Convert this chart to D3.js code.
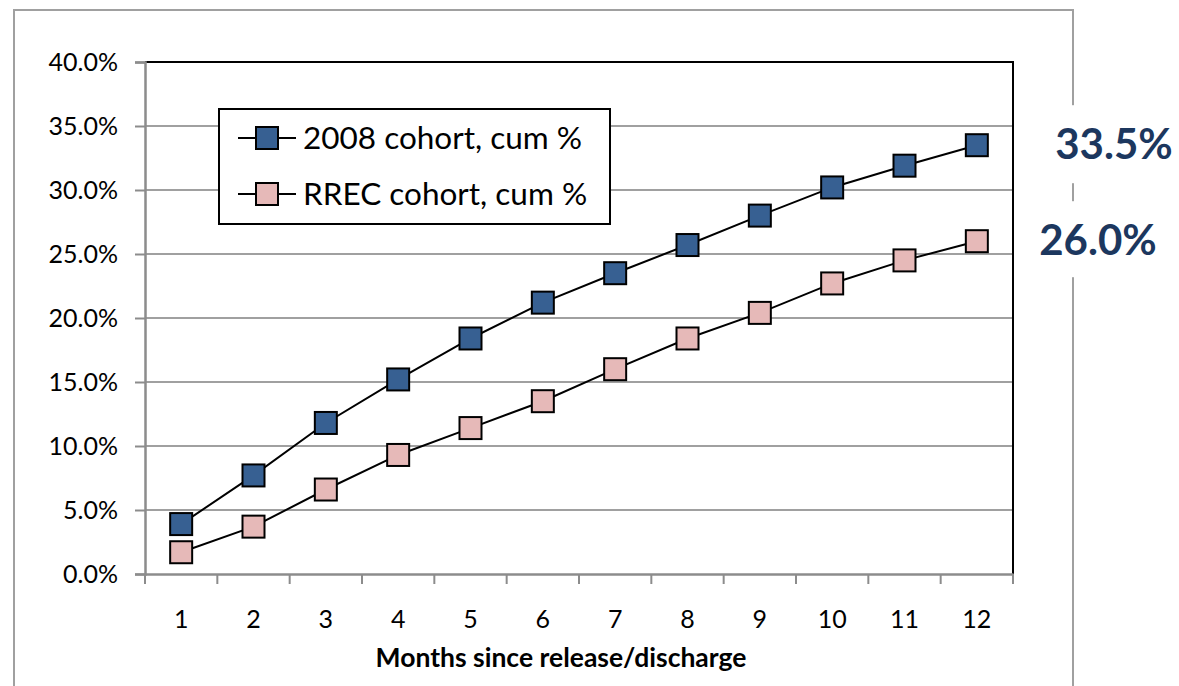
<!DOCTYPE html>
<html><head><meta charset="utf-8">
<script src="https://cdn.jsdelivr.net/npm/d3@7"></script>
<style>body{margin:0;background:#fff}svg{display:block}text{font-family:Lato,"Open Sans",sans-serif}</style>
</head><body><svg id="c" width="1179" height="686"></svg>
<script>
const months = [1,2,3,4,5,6,7,8,9,10,11,12];
const cohort2008 = [3.9,7.7,11.8,15.2,18.4,21.2,23.5,25.7,28.0,30.2,31.9,33.5];
const rrec = [1.7,3.7,6.6,9.3,11.4,13.5,16.0,18.4,20.4,22.7,24.5,26.0];
const yTicks = [0,5,10,15,20,25,30,35,40];
const seriesNames = ["2008 cohort, cum %","RREC cohort, cum %"];
const seriesColors = ["#376092","#e6b9b8"];
const endLabels = ["33.5%","26.0%"];

const svg = d3.select("#c");
const L=145,R=1013,T=62,B=574;
const x = d3.scaleBand().domain(months).range([L,R]);
const y = d3.scaleLinear().domain([0,40]).range([B,T]);

// outer frame
svg.append("path").attr("d","M14,686V10H1073V686").attr("fill","none").attr("stroke","#a0a0a0").attr("stroke-width",2);

// gridlines
svg.append("g").selectAll("line").data(yTicks.slice(1)).join("line")
  .attr("x1",L).attr("x2",R).attr("y1",d=>y(d)).attr("y2",d=>y(d))
  .attr("stroke","#a0a0a0").attr("stroke-width",2);
// top/right border
svg.append("path").attr("d",`M${L},${T}H${R}V${B}`).attr("fill","none").attr("stroke","#000").attr("stroke-width",2);

// y axis
const ya = svg.append("g").attr("transform",`translate(${L},0)`)
  .call(d3.axisLeft(y).tickValues(yTicks).tickFormat(d=>d.toFixed(1)+"%").tickSize(10).tickPadding(17));
ya.select(".domain").attr("stroke","#8c8c8c").attr("stroke-width",2.5);
ya.selectAll(".tick line").attr("stroke","#8c8c8c").attr("stroke-width",2);
ya.selectAll("text").attr("font-size",25).attr("fill","#000");

// x axis
const xa = svg.append("g").attr("transform",`translate(0,${B})`)
  .call(d3.axisBottom(x).tickSize(0).tickPadding(36));
xa.select(".domain").attr("stroke","#8c8c8c").attr("stroke-width",2.5);
xa.selectAll("text").attr("font-size",25).attr("fill","#000");
const bounds = months.map(m=>x(m)).concat([R]);
svg.append("g").selectAll("line").data(bounds).join("line")
  .attr("x1",d=>d).attr("x2",d=>d).attr("y1",B).attr("y2",B+10)
  .attr("stroke","#8c8c8c").attr("stroke-width",2);

svg.append("text").attr("x",561).attr("y",667).attr("text-anchor","middle")
  .attr("font-size",26.5).attr("font-weight","bold").text("Months since release/discharge");

// series
const cx = d=>x(d)+x.bandwidth()/2;
const ms = 22;
[cohort2008,rrec].forEach((vals,i)=>{
  const line = d3.line().x((d,j)=>cx(months[j])).y(d=>y(d));
  svg.append("path").attr("d",line(vals)).attr("fill","none").attr("stroke","#000").attr("stroke-width",2);
  svg.append("g").selectAll("rect").data(vals).join("rect")
    .attr("x",(d,j)=>cx(months[j])-ms/2).attr("y",d=>y(d)-ms/2)
    .attr("width",ms).attr("height",ms)
    .attr("fill",seriesColors[i]).attr("stroke","#000").attr("stroke-width",2);
});

// legend
const lg = svg.append("g");
lg.append("rect").attr("x",219).attr("y",109).attr("width",391).attr("height",115)
  .attr("fill","#fff").attr("stroke","#000").attr("stroke-width",2);
seriesNames.forEach((n,i)=>{
  const cy = 138 + i*56;
  lg.append("line").attr("x1",238).attr("x2",296).attr("y1",cy).attr("y2",cy).attr("stroke","#000").attr("stroke-width",2);
  lg.append("rect").attr("x",267-ms/2).attr("y",cy-ms/2).attr("width",ms).attr("height",ms)
    .attr("fill",seriesColors[i]).attr("stroke","#000").attr("stroke-width",2);
  lg.append("text").attr("x",303).attr("y",cy+11).attr("font-size",31.5).text(n);
});

// end labels
const lblPos = [[1114,cohort2008[11]],[1098,rrec[11]]];
lblPos.forEach((p,i)=>{
  const yy = y(p[1]);
  svg.append("rect").attr("x",p[0]-62).attr("y",yy-40).attr("width",124).attr("height",i==0?78:76).attr("fill","#fff");
  svg.append("text").attr("x",p[0]).attr("y",yy+14).attr("text-anchor","middle")
    .attr("font-size",42).attr("font-weight","bold").attr("fill","#1c375e").text(endLabels[i]);
});
</script></body></html>
